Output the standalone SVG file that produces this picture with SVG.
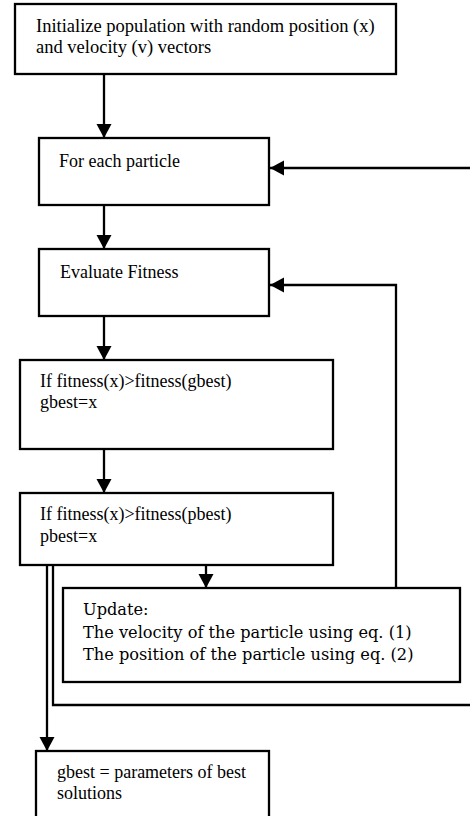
<svg xmlns="http://www.w3.org/2000/svg" width="470" height="816" viewBox="0 0 470 816">
<style>
.box{fill:#fff;stroke:#000;stroke-width:2.3}
.t{font-family:"Liberation Serif","Times New Roman",serif;font-size:18px;fill:#000}
.big{font-size:18.5px}
.u{font-family:"DejaVu Serif",serif;font-size:16.2px;fill:#000}
.c{fill:none;stroke:#000;stroke-width:2.3}
</style>
<defs>
<marker id="ah" markerUnits="userSpaceOnUse" markerWidth="16" markerHeight="16" viewBox="0 0 16 16" refX="14" refY="8" orient="auto">
<path d="M0,0.5 L14,8 L0,15.5 Z" fill="#000"/>
</marker>
</defs>
<rect width="470" height="816" fill="#fff"/>
<g id="connectors">
<path class="c" d="M104,74 V138" marker-end="url(#ah)"/>
<path class="c" d="M53,565 V705 H473 V168 H270" marker-end="url(#ah)"/>
<path class="c" d="M104,205 V249" marker-end="url(#ah)"/>
<path class="c" d="M396,588 V285 H270" marker-end="url(#ah)"/>
<path class="c" d="M104,316 V360" marker-end="url(#ah)"/>
<path class="c" d="M104,449 V493" marker-end="url(#ah)"/>
<path class="c" d="M206,565 V588" marker-end="url(#ah)"/>
<path class="c" d="M47,565 V751" marker-end="url(#ah)"/>
</g>
<g id="init">
<rect class="box" x="15" y="4" width="381" height="70"/>
<text class="t big" x="36" y="32">Initialize population with random position (x)</text>
<text class="t big" x="36" y="53">and velocity (v) vectors</text>
</g>
<g id="foreach">
<rect class="box" x="39" y="138" width="230" height="67"/>
<text class="t" x="59" y="167">For each particle</text>
</g>
<g id="evaluate">
<rect class="box" x="39" y="249" width="230" height="67"/>
<text class="t" x="60" y="278">Evaluate Fitness</text>
</g>
<g id="gbest">
<rect class="box" x="20" y="360" width="313" height="89"/>
<text class="t" x="40" y="387">If fitness(x)&gt;fitness(gbest)</text>
<text class="t" x="40" y="408">gbest=x</text>
</g>
<g id="pbest">
<rect class="box" x="20" y="493" width="313" height="72"/>
<text class="t" x="40" y="520">If fitness(x)&gt;fitness(pbest)</text>
<text class="t" x="40" y="542">pbest=x</text>
</g>
<g id="update">
<rect class="box" x="63" y="588" width="397" height="94"/>
<text class="u" x="83" y="615">Update:</text>
<text class="u" x="83" y="638">The velocity of the particle using eq. (1)</text>
<text class="u" x="83" y="660">The position of the particle using eq. (2)</text>
</g>
<g id="result">
<rect class="box" x="36" y="751" width="233" height="72"/>
<text class="t" x="57" y="778">gbest = parameters of best</text>
<text class="t" x="57" y="799">solutions</text>
</g>
</svg>
